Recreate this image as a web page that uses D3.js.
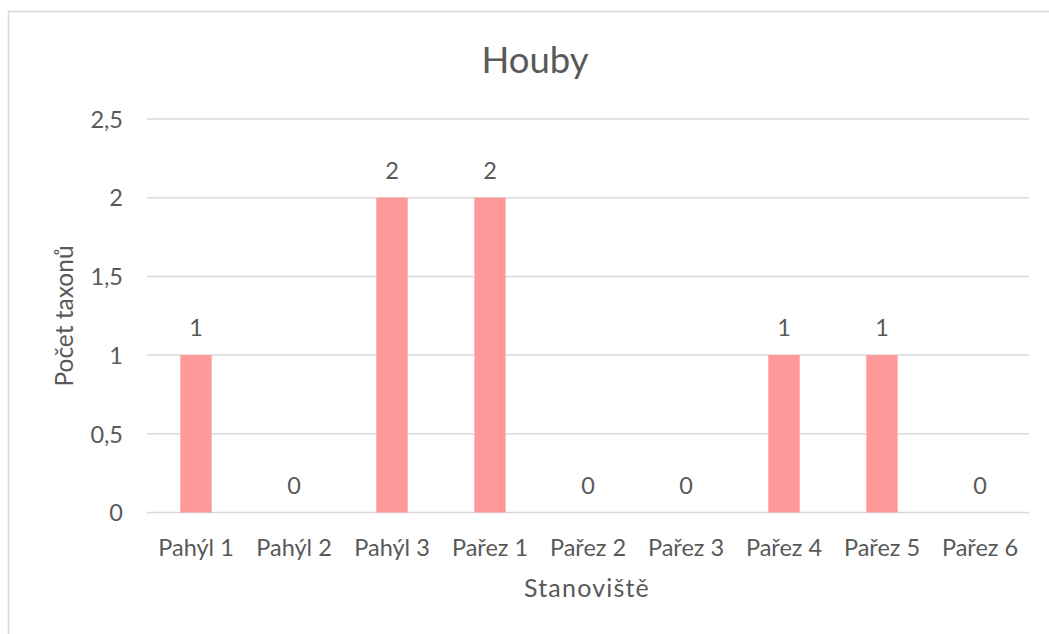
<!DOCTYPE html>
<html>
<head>
<meta charset="utf-8">
<script src="https://cdn.jsdelivr.net/npm/d3@7"></script>
<style>
  body { margin: 0; background: #fff; }
  svg text { font-family: Lato, "Open Sans", sans-serif; fill: #595959; }
</style>
</head>
<body>
<svg id="chart" width="1049" height="634"></svg>
<script>
// data
var sites = ["Pahýl 1", "Pahýl 2", "Pahýl 3", "Pařez 1", "Pařez 2", "Pařez 3", "Pařez 4", "Pařez 5", "Pařez 6"];
var taxa = [1, 0, 2, 2, 0, 0, 1, 1, 0];
var yTicks = [0, 0.5, 1, 1.5, 2, 2.5];

var svg = d3.select("#chart");

//chart frame, runs off right and bottom edge
svg.append("rect")
	.attr("x", 8.5)
	.attr("y", 11.5)
	.attr("width", 1100)
	.attr("height", 700)
	.attr("fill", "none")
	.attr("stroke", "#d9d9d9")
	.attr("stroke-width", 1.5);

var x = d3.scaleBand()
	.domain(sites)
	.range([147, 1029])
	.paddingInner(0.68)
	.paddingOuter(0.34);

var y = d3.scaleLinear()
	.domain([0, 2.5])
	.range([512.5, 119]);

//gridlines
svg.append("g")
	.selectAll("line")
	.data(yTicks)
	.enter()
	.append("line")
	.attr("x1", 147)
	.attr("x2", 1029)
	.attr("y1", function (d) { return y(d); })
	.attr("y2", function (d) { return y(d); })
	.attr("stroke", "#d9d9d9")
	.attr("stroke-width", 1.5);

//y axis labels (no domain line)
var yAxis = d3.axisLeft(y)
	.tickValues(yTicks)
	.tickSize(0)
	.tickPadding(0)
	.tickFormat(function (d) { return String(d).replace(".", ","); });

var gy = svg.append("g")
	.attr("transform", "translate(123,0)")
	.call(yAxis);
gy.select(".domain").remove();
gy.selectAll("text")
	.attr("font-size", 23.5)
	.attr("dy", "0.35em");

//bars
svg.append("g")
	.selectAll("rect")
	.data(taxa)
	.enter()
	.append("rect")
	.attr("x", function (d, i) { return x(sites[i]); })
	.attr("width", x.bandwidth())
	.attr("y", function (d) { return y(d); })
	.attr("height", function (d) { return y(0) - y(d); })
	.attr("fill", "#ff9999");

//value labels
svg.append("g")
	.selectAll("text")
	.data(taxa)
	.enter()
	.append("text")
	.attr("x", function (d, i) { return x(sites[i]) + x.bandwidth() / 2; })
	.attr("y", function (d) { return y(d) - 19; })
	.attr("text-anchor", "middle")
	.attr("font-size", 23.5)
	.text(function (d) { return d; });

//x axis labels
var xAxis = d3.axisBottom(x).tickSize(0).tickPadding(0);
var gx = svg.append("g")
	.attr("transform", "translate(0,512.5)")
	.call(xAxis);
gx.select(".domain").remove();
gx.selectAll("text")
	.attr("font-size", 23.5)
	.attr("dy", "0")
	.attr("y", 43);

//title
svg.append("text")
	.attr("x", 535)
	.attr("y", 73)
	.attr("text-anchor", "middle")
	.attr("font-size", 36.5)
	.text("Houby");

//axis titles
svg.append("text")
	.attr("x", 587)
	.attr("y", 597)
	.attr("text-anchor", "middle")
	.attr("font-size", 25)
	.attr("letter-spacing", 1.2)
	.text("Stanoviště");

svg.append("text")
	.attr("transform", "translate(73,316) rotate(-90)")
	.attr("text-anchor", "middle")
	.attr("font-size", 24.5)
	.text("Počet taxonů");
</script>
</body>
</html>
